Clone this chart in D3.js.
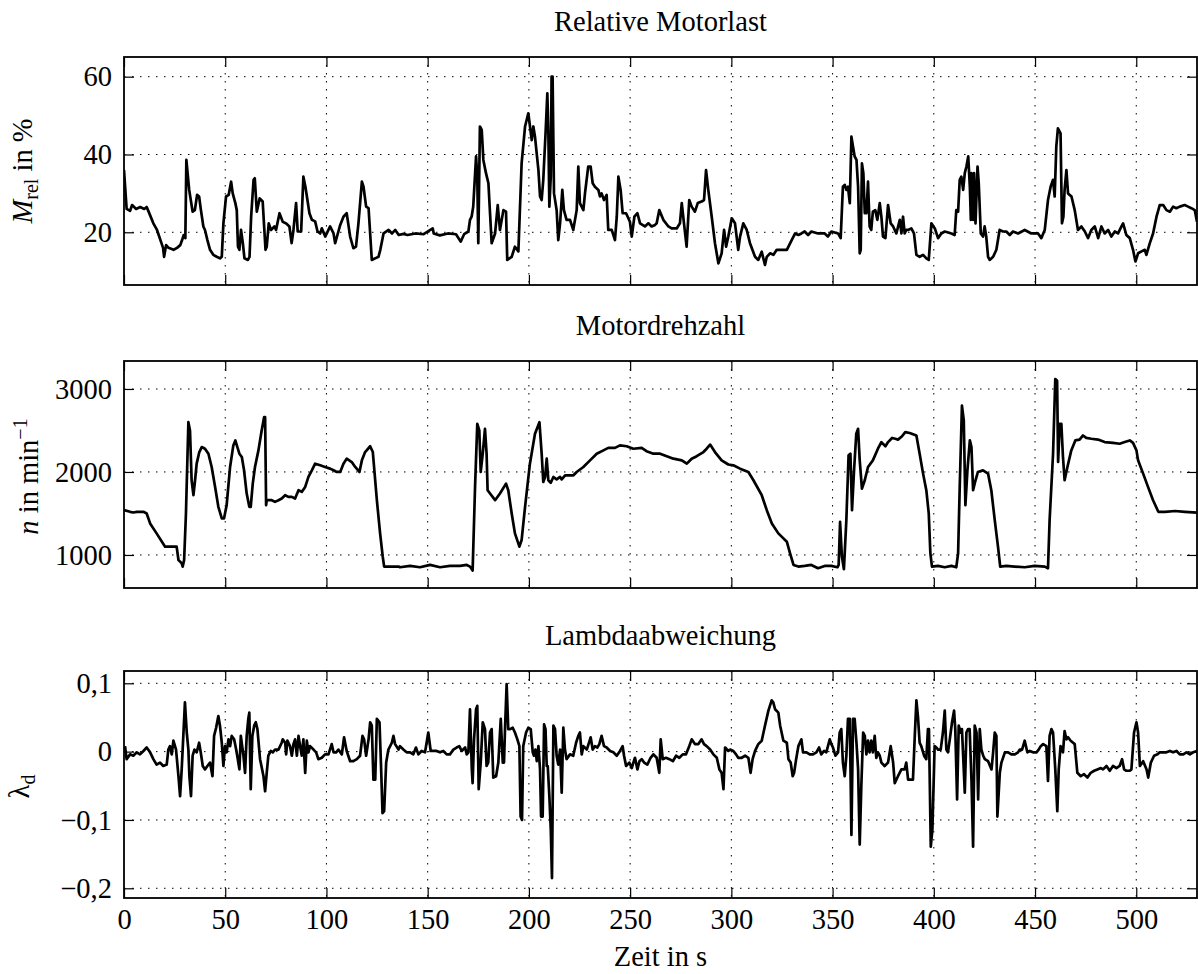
<!DOCTYPE html>
<html>
<head>
<meta charset="utf-8">
<script src="https://cdn.jsdelivr.net/npm/d3@7"></script>
<style>
  body { margin: 0; background: #fff; }
  svg { display: block; }
  text { font-family: "Liberation Serif", "Times New Roman", serif; fill: #000; }
</style>
</head>
<body>
<div id="wrapper"></div>
<script>
// Zeit in s, Wert
const loadData = [
  [0,36],[1.3,26],[3,25.5],[4,27],[6,26],[8,26.5],[10,26],[11.2,26.5],[12,25.5],[14.5,22.3],[16.3,20.6],[18,18],
  [19.3,16],[19.8,13.7],[20.8,16.7],[22,16],[24.5,15.5],[26.2,16],[27.8,16.7],[28.7,18],[29.5,19.3],[30.3,18.5],
  [30.8,38.6],[32.2,30.9],[33.9,25.3],[35,25.7],[36.1,29.6],[37.1,29.2],[38,25.7],[39.2,21.5],[40,20.6],[41.2,18],
  [42.5,15.5],[44.1,14.2],[45.8,13.7],[47.4,13.3],[48.3,13.7],[49.1,22.3],[50.4,29.2],[51.7,29.6],[52.9,33],[53.7,30],
  [55,27.5],[55.7,25.7],[56.3,16.3],[57,15.5],[57.8,20.6],[58.7,17.2],[59.5,13.3],[61.2,12.9],[62,13.7],[62.8,24],
  [64,33.5],[64.6,33.9],[65.6,25.3],[67,28.7],[68.5,27.9],[69.9,15.5],[70.5,16.3],[71.5,22.3],[72.6,20.6],[74.3,21.5],
  [75.1,20.6],[76.8,24.9],[78.4,22.7],[80,22.3],[81.7,21.5],[82.8,17.2],[83.7,20.6],[85,27.5],[85.8,20.2],[87.5,20.2],
  [88.6,34.3],[89.6,31.7],[91.6,24.9],[92.8,23.2],[94.4,22.8],[95.6,20.2],[96.9,19.7],[97.7,21],[99.4,18.9],[101.8,21.5],
  [103.5,19.7],[104.3,17.2],[105.9,20.2],[106.8,21.9],[108.4,24],[110,24.9],[111.7,18.9],[113.3,15.9],[114.6,16.3],
  [115.8,22.3],[117.5,33],[118.3,31.7],[119.6,26.6],[120.8,26.2],[122.4,12.9],[124.1,13.3],[125.7,13.7],[126.6,15.5],
  [128.2,19.7],[130.7,20.6],[132.4,19.7],[134,20.6],[135.7,19.3],[138,19.6],[140,19.3],[144,19.7],[148,19.5],[152.5,21],
  [153,19.7],[156,19.2],[160,19.7],[164,19.5],[166.3,17.6],[168,19.5],[170.1,20.2],[170.9,23.2],[171.7,24],[172.5,26.6],
  [173.9,39.5],[174.5,34.3],[175,17.2],[175.8,47.2],[176.7,46.3],[177.5,38.6],[178.8,35.2],[180,32.6],[180.8,24.9],
  [181.6,17.2],[183.3,19.7],[184.6,27],[185.7,20.6],[187.4,25.7],[188.7,25.3],[189.3,12.9],[191.5,13.7],[193.1,16.3],
  [194.8,15.1],[196.4,37.7],[198.1,47.2],[199.7,50.6],[201.4,43.7],[202.2,47.2],[203,44.6],[204.7,36],[205.5,29.2],
  [206.3,28.3],[207.1,33.5],[208.3,46.3],[209.1,55.7],[209.6,46.3],[210.1,26.6],[210.8,34.3],[211.2,60],[211.7,60],
  [212.4,30],[213.7,25.7],[214.5,18],[215.4,22.3],[216.5,30.9],[217.3,25.7],[218.6,23.2],[220.3,23.2],[221.9,20.6],
  [223.6,25.7],[224.4,36.9],[225.2,27.5],[226.9,25.7],[227.7,30],[229.3,36.9],[230.5,36.9],[231.5,32.6],[232.6,31.7],
  [234.3,30.9],[235.1,29.2],[235.9,30],[237.1,28.3],[238.4,29.6],[239.2,20.6],[240.9,20.6],[242.5,18],[243.4,24],
  [244.2,34.3],[245.3,30.9],[246.3,24.9],[248,24.9],[249.9,22.7],[250.8,18.9],[252.1,24],[253.6,24.9],[254.9,22.3],
  [257.3,21.5],[259,22.3],[260.6,21.5],[262.3,21.9],[263.1,22.3],[264.4,25.7],[266.4,23.2],[268.9,21.5],[270.5,21],
  [273,21],[274.6,22.3],[275.5,27.5],[276.6,22.3],[277.9,16.3],[279.2,28.3],[280.4,26.6],[282,25.3],[283.4,27.5],
  [285.3,27.9],[286.5,28.3],[287.5,36],[288.6,30.9],[290.3,24],[291.9,17.2],[293.6,12],[295.2,14.6],[296.4,20.6],
  [297.4,16.3],[298.5,18.9],[300.2,23.6],[301.8,22.3],[303.4,15.5],[304.3,18.9],[305.9,22.3],[307.6,20.6],[309.2,17.2],
  [311.7,13.7],[313.3,12.9],[315,15],[316.6,11.6],[317.5,13.7],[319.1,14.6],[320.8,14.2],[322.4,15.5],[324.9,15.5],
  [327.4,15.5],[329.8,18],[331.5,19.7],[333.1,19.3],[334.6,19.7],[336.2,20.2],[337.9,19.3],[339.5,20.2],[342.8,19.7],
  [346.1,19.7],[347.7,18.9],[349.4,20.2],[352.7,19.7],[354,18.5],[355.1,31.7],[356,32.2],[356.8,30.9],[357.6,31.7],
  [358.5,27.5],[359.3,44.6],[360.1,42],[360.9,39.5],[361.8,38.6],[362.6,31.7],[363.4,14.6],[363.9,15.5],[364.5,37.7],
  [365.2,35.2],[365.9,24.9],[366.7,24.9],[367.5,33],[368.3,21.5],[369.1,20.6],[369.9,25.3],[371.1,25.7],[372.1,23.2],
  [373.3,27.5],[374.1,24],[374.9,18.9],[376.1,18.5],[377.4,27],[378.7,22.3],[379.9,21.5],[381.5,19.7],[383.2,23.2],
  [384,19.7],[384.8,24],[385.6,19.7],[386.4,20.6],[387.3,20.6],[388.9,21],[390.2,19.7],[391.4,14.2],[393,13.7],
  [394.7,14.2],[396.3,13.3],[397.5,12.9],[398.8,22.3],[400.5,21],[402.1,18.5],[403.7,19.7],[405.4,20.2],[408.7,19.7],
  [410.3,19.3],[411.1,25.7],[412,25.3],[412.8,33.5],[413.6,34.3],[414.5,30.9],[415.3,35.2],[416.1,36.9],[417,39.5],
  [417.8,31.7],[418.3,23.2],[418.6,35.2],[419.5,23.2],[419.9,35.2],[420.6,22.3],[421.6,36.9],[422.2,32.6],[423.2,19.7],
  [424.3,18.9],[425.1,21.5],[425.9,18.9],[426.8,13.7],[427.6,12.9],[429.3,13.7],[430.9,15.5],[432.5,20.6],[434.2,20.2],
  [435.8,20.2],[437.5,19.3],[439.1,20.2],[441.6,19.7],[444.9,20.6],[448.2,19.7],[451.5,19.7],[453.1,18.5],[454.8,20.6],
  [456.4,28.3],[457.7,31.7],[458.9,33.5],[459.7,29.2],[460.5,42],[461.3,46.7],[462.6,45.4],[463.3,22.3],[464,24],
  [464.6,30.9],[465.5,36],[466.3,30],[468,29.2],[469.6,25.7],[471.2,20.6],[472.9,21.5],[474.6,20.2],[476.2,18.5],
  [477.8,20.6],[479.5,21.5],[481.2,18.5],[482.8,21.5],[484.4,19.7],[486.1,20.6],[487.7,18.9],[489.4,20.2],[491,19.7],
  [492.7,21.5],[493.5,22.3],[495.1,19.3],[496.8,18.5],[498.4,15.5],[499.6,12.5],[500.9,14.6],[502.6,15.1],[504.2,15.5],
  [505,14.2],[506.7,17.2],[508.3,19.7],[510,24],[511.6,27],[513.3,27],[514.9,25.7],[516.6,25.3],[518.2,26.6],
  [519.8,26.2],[521.5,26.6],[523.9,27],[525.6,26.6],[527.2,26.2],[528.9,25.7],[530,22.7]
]

const speedData = [
  [0,1540],[3,1520],[4.6,1512],[6.3,1520],[9.6,1520],[11.2,1500],[12.9,1380],[16.1,1260],[20.3,1100],[22.7,1100],
  [26,1100],[26.9,940],[27.7,920],[28.5,900],[29,860],[29.7,940],[30.6,1500],[31.8,2600],[32.6,2500],[33.4,1900],
  [34.3,1720],[35.1,1900],[35.9,2100],[37.2,2240],[38.4,2300],[40,2280],[41.7,2220],[43.3,2060],[45,1820],[46.6,1580],
  [48.3,1440],[49.4,1440],[50.7,1600],[52.4,2060],[54,2320],[55,2380],[56,2300],[57,2220],[58.2,2180],[59.3,2020],
  [60.6,1740],[61.9,1580],[62.6,1580],[63.6,1860],[64.7,2060],[66.4,2260],[68,2500],[69.2,2660],[69.7,2660],[70.2,1600],
  [70.5,1660],[71.3,1660],[73,1660],[74.6,1640],[76.3,1660],[77.9,1680],[79.6,1720],[81.2,1700],[82.9,1700],[84.5,1680],
  [86.2,1780],[87.8,1760],[89.5,1820],[91.1,1940],[92.8,2020],[94.4,2100],[96.9,2080],[99.3,2060],[101.8,2040],
  [103.5,2020],[105.1,2000],[106.8,2000],[108.4,2100],[110,2160],[112.5,2120],[114.2,2060],[116.3,2000],[117.5,2140],
  [119.1,2240],[121.6,2310],[122.9,2240],[124.9,1660],[126.5,1260],[127.8,980],[128.5,860],[129.8,860],[132.3,860],
  [135.6,860],[136.3,852],[141.3,868],[146.2,852],[151.2,880],[156.1,852],[161,868],[166,868],[169.3,880],[170.9,860],
  [172.2,812],[173.4,1820],[174.5,2580],[175.5,2500],[176.2,2000],[177.2,2220],[178.3,2520],[179.1,2220],[179.6,1780],
  [180.8,1740],[183.3,1660],[185.7,1740],[188.7,1860],[189.8,1780],[191.5,1500],[193.1,1260],[195.3,1100],[196.4,1180],
  [198.1,1580],[200.5,2100],[203,2460],[205.2,2600],[206.3,2220],[207.1,1880],[208,1940],[208.8,2160],[209.6,1900],
  [210.8,1870],[212.1,1940],[213.7,1910],[215.4,1940],[216.2,1910],[217.9,1960],[222,1960],[223.6,2000],[226.9,2060],
  [230.2,2140],[233.5,2220],[236.8,2260],[239.2,2290],[242.5,2290],[245,2320],[248.3,2310],[251.6,2280],[255.7,2290],
  [258.1,2250],[261.5,2220],[264.8,2220],[268.1,2190],[271.4,2160],[275.5,2140],[278,2100],[280.4,2160],[282.9,2190],
  [286.2,2240],[287.8,2280],[289.5,2330],[291.9,2240],[295.2,2140],[298.5,2090],[301,2080],[304.3,2040],[308.4,2000],
  [310.9,1900],[315,1720],[317.5,1540],[320,1380],[323.2,1260],[327.4,1160],[329,1020],[330.7,880],[333.1,860],
  [336.2,868],[339.5,880],[342.8,840],[346.1,868],[349.4,868],[352.4,852],[353,880],[353.7,1400],[354.6,980],[355.6,828],
  [356.8,1420],[357.9,2200],[358.8,2220],[359.6,1540],[360.6,2020],[361.7,2460],[362.6,2520],[363.4,2140],[364.5,1800],
  [365.9,1900],[367.5,2060],[369.9,2140],[372.4,2280],[374.1,2360],[376.1,2310],[377.4,2360],[379.4,2410],[381,2400],
  [382.3,2390],[384.3,2430],[385.9,2480],[388.1,2470],[391.4,2440],[393,2220],[394.7,1980],[396.3,1780],[397.5,1500],
  [398.3,1020],[399.1,860],[402.1,868],[405.4,852],[408.7,868],[411.1,852],[412,1020],[412.8,1820],[413.9,2800],
  [414.8,2620],[415.6,1600],[416.6,2020],[417.8,2380],[418.6,2300],[419.4,1780],[420.6,1900],[421.8,2000],[424.3,2020],
  [426.8,1980],[428.4,1780],[430.1,1420],[431.7,1100],[432.8,860],[435.8,868],[439.9,860],[444.9,852],[449.8,868],
  [454.8,860],[456.4,840],[457.2,1420],[458.9,2220],[460,3120],[460.9,3100],[461.4,2120],[462.2,2580],[463,2580],
  [463.8,2180],[464.6,1900],[466,2060],[467.9,2260],[469.9,2380],[472,2390],[473.7,2440],[475.3,2410],[477.8,2400],
  [481.1,2390],[484.4,2360],[488.5,2350],[491.8,2340],[494.3,2360],[496.8,2380],[498.4,2350],[500.1,2260],[500.9,2140],
  [503.4,1980],[505.8,1820],[508.3,1660],[510.9,1520],[514.2,1520],[519.1,1530],[524,1520],[530,1510]
]

const lambdaData = [
  [0.5,0.008],[1.3,-0.011],[3,-0.004],[4.6,-0.006],[6.3,-0.001],[7.9,-0.004],[9.6,0.001],[11.2,0.006],[12.9,-0.001],
  [14.5,-0.011],[16.1,-0.019],[17.8,-0.016],[19.4,-0.021],[21.1,-0.019],[21.9,0.003],[22.7,0.008],[23.6,-0.004],
  [24.4,0.016],[25.7,0.003],[26.9,-0.036],[27.7,-0.065],[28.5,-0.026],[29.3,0.023],[30.1,0.072],[31,0.028],[31.8,0.003],
  [32.3,-0.036],[33.1,-0.065],[33.9,-0.006],[34.8,0.003],[35.9,-0.001],[37.1,0.013],[37.9,-0.001],[38.9,-0.021],
  [40,-0.026],[41.2,-0.021],[42.5,-0.016],[43.7,-0.036],[44.5,0.023],[45.5,0.035],[46.6,0.052],[47.4,0.038],[48.3,0.013],
  [49.1,-0.021],[49.9,0.008],[50.7,-0.001],[51.6,0.018],[52.4,0.008],[53.2,0.023],[54.4,0.018],[55.4,0.003],[56.2,-0.011],
  [57,-0.026],[57.7,0.023],[59,-0.006],[59.8,-0.031],[60.6,0.023],[61.4,0.048],[61.9,0.057],[62.6,-0.055],[63.4,0.023],
  [64.3,0.038],[65.1,0.043],[65.9,0.033],[67.2,-0.011],[68.9,-0.036],[69.7,-0.058],[70.5,-0.031],[71.3,-0.006],
  [72.5,0.001],[73.5,-0.001],[74.6,0.003],[76.3,0.003],[77.9,0.013],[78.4,0.018],[79.6,0.013],[80.1,-0.004],[80.7,0.016],
  [82,0.008],[82.9,-0.006],[83.7,0.011],[84.5,0.018],[85.4,-0.006],[86.2,0.023],[87,0.008],[87.8,-0.006],[88.6,0.018],
  [89.5,-0.031],[90.3,0.016],[91.1,-0.001],[91.9,0.008],[93.6,0.003],[94.9,-0.001],[96,-0.011],[97.7,-0.009],[99.3,-0.004],
  [101,-0.004],[102.6,0.011],[103.5,-0.001],[104.8,-0.001],[105.9,0.003],[107.6,-0.004],[108.7,0.021],[110,0.001],
  [111.7,-0.014],[113.3,-0.014],[115,-0.011],[116.6,-0.006],[117.8,0.023],[118.6,0.018],[119.6,-0.006],[120.8,0.018],
  [121.6,0.043],[122.4,0.038],[123.2,-0.041],[124.1,-0.041],[124.9,0.048],[126.2,0.043],[126.9,-0.016],[127.7,-0.09],
  [128.5,-0.087],[129.5,-0.016],[130.6,0.003],[132.3,0.013],[133.1,0.023],[133.9,0.011],[135.6,0.003],[136.3,0.008],
  [138,0.003],[139.6,-0.001],[141.3,-0.001],[142.9,-0.004],[144.2,0.006],[145.4,-0.004],[147,0.001],[148.7,-0.001],
  [150.3,0.028],[151.5,0.001],[152.8,0.001],[154.4,0.001],[156.1,-0.001],[157.7,0.001],[159.4,-0.004],[161,-0.004],
  [162.7,0.003],[164.3,0.006],[165.6,0.008],[166.8,0.001],[168.5,0.006],[169.3,-0.004],[170.1,-0.001],[170.9,0.062],
  [171.8,-0.026],[172.2,-0.046],[172.9,0.018],[173.9,0.062],[174.5,0.067],[175.2,-0.055],[176.2,-0.016],[177.2,0.043],
  [178.3,0.033],[179.1,-0.021],[179.9,-0.016],[180.8,0.028],[181.6,0.033],[182.4,-0.038],[183.8,-0.036],[184.9,-0.016],
  [186.1,0.048],[187.1,-0.016],[187.7,-0.016],[188.2,0.033],[189,0.099],[189.8,0.033],[190.7,0.033],[192,0.035],
  [193.1,0.028],[194.3,0.018],[195.3,0.008],[195.9,-0.095],[196.6,-0.1],[197.2,0.008],[198.6,0.028],[199.7,0.035],
  [200.9,0.033],[201.9,-0.001],[202.5,-0.006],[203.2,0.003],[203.9,-0.014],[204.7,0.008],[205.5,-0.026],[206,-0.095],
  [206.8,-0.095],[207.5,0.04],[208.2,0.033],[208.8,-0.021],[209.3,-0.021],[210.1,-0.065],[210.8,-0.114],[211.4,-0.185],
  [212.1,0.038],[212.9,0.033],[213.7,-0.006],[214.5,-0.019],[215.4,0.003],[216.2,-0.06],[217,0.035],[217.8,0.003],
  [218.6,-0.011],[220.3,-0.004],[221.9,-0.006],[223.3,0.013],[224.4,0.023],[225.2,0.028],[226.1,-0.004],[226.9,0.008],
  [228.6,0.003],[230.5,0.021],[231.5,0.003],[232.6,0.008],[233.8,0.006],[234.8,0.011],[235.9,0.023],[237.1,0.008],
  [238.4,0.006],[240.1,0.001],[241.7,-0.001],[243.4,-0.006],[245,0.001],[246.3,0.008],[247,-0.006],[248,-0.021],
  [249.6,-0.016],[250.8,-0.024],[251.6,-0.016],[252.4,-0.009],[253.6,-0.026],[254.6,-0.014],[255.7,-0.011],[256.9,-0.016],
  [258.5,-0.019],[260.1,-0.009],[261.5,-0.004],[263.1,-0.009],[264.4,-0.031],[265.1,0.018],[266.1,-0.011],[267.7,-0.009],
  [269.4,-0.011],[271.1,-0.014],[272.7,-0.006],[274.3,-0.009],[276,-0.004],[277.6,-0.004],[279.2,0.008],[280.4,0.018],
  [282,0.011],[283.7,0.011],[285.3,0.018],[286.5,0.011],[287.8,0.008],[289.5,0.003],[291.1,-0.004],[292.8,-0.009],
  [294.1,-0.026],[295.2,-0.031],[296.1,-0.055],[296.9,0.006],[298.5,0.001],[299.4,0.003],[301,0.001],[302.3,-0.004],
  [303.4,-0.009],[305.1,-0.009],[306.8,-0.006],[308.4,-0.009],[309.5,-0.031],[310.5,-0.011],[311.7,0.001],[313.3,0.011],
  [315,0.016],[316.6,0.038],[318.3,0.06],[319.9,0.075],[320.7,0.072],[321.6,0.062],[323.2,0.057],[324.1,0.038],
  [325.7,0.016],[327.4,0.013],[328.2,-0.011],[329.3,-0.016],[330.3,-0.036],[331,-0.031],[332,-0.011],[333.1,0.008],
  [334.6,0.018],[335.4,-0.001],[337.1,-0.001],[338.7,-0.004],[340.3,-0.004],[342,-0.001],[343.3,0.006],[344.4,-0.004],
  [345.8,0.001],[346.9,-0.001],[348.6,0.018],[349.4,0.011],[350.2,0.006],[351.4,-0.006],[352.7,-0.001],[353.5,0.028],
  [354.3,0.033],[355.1,-0.016],[356,-0.036],[356.8,-0.006],[357.6,0.048],[358.5,0.048],[359.3,-0.122],[360.1,0.048],
  [360.9,0.048],[361.8,0.013],[362.6,-0.026],[363.4,-0.136],[364.2,-0.05],[365.1,0.028],[365.9,0.023],[366.7,-0.004],
  [367.5,0.016],[368.3,-0.001],[369.1,0.016],[369.9,-0.001],[370.8,0.023],[371.6,-0.009],[372.4,-0.001],[373.3,-0.006],
  [374.1,-0.016],[375.7,-0.021],[377.4,-0.016],[378.7,0.008],[379.9,-0.016],[380.7,-0.046],[382.3,-0.036],[384,-0.026],
  [385.6,-0.026],[386.4,-0.016],[387.3,-0.041],[389.7,-0.041],[390.6,0.023],[391.4,0.075],[392.2,0.05],[393,0.013],
  [393.8,0.008],[395.2,-0.006],[396.3,-0.011],[397.1,0.033],[397.6,0.033],[398.5,-0.139],[399.3,-0.114],[400.4,0.008],
  [401.3,0.006],[402.1,0.003],[403.4,0.003],[404.5,0.028],[405.4,0.06],[406.2,0.003],[407,-0.001],[407.9,0.018],
  [409,0.043],[410,0.06],[410.6,0.033],[411.5,-0.07],[412.3,0.038],[413.3,0.028],[413.9,0.033],[415.3,-0.06],
  [416.1,0.028],[416.9,0.033],[417.7,0.033],[418.6,-0.041],[419.4,-0.139],[420.2,0.038],[421.1,0.028],[421.9,-0.07],
  [422.7,0.033],[423.5,0.003],[424.4,-0.006],[425.2,-0.011],[426.8,-0.014],[428.5,-0.026],[429.3,-0.001],[430.1,0.028],
  [430.9,0.023],[431.4,-0.095],[432.6,-0.031],[433.4,-0.016],[435.1,-0.001],[436.7,-0.001],[438.3,-0.004],[440,-0.004],
  [441.6,-0.001],[442.4,0.003],[443.6,0.003],[444.9,0.016],[446.2,-0.001],[447.4,0.001],[449,-0.001],[450.7,-0.001],
  [451.8,0.003],[452.8,0.008],[454,0.011],[455.6,0.008],[456.4,-0.043],[457.2,0.023],[458.1,0.033],[458.9,0.028],
  [460,-0.026],[461,-0.087],[461.7,-0.026],[462.6,0.008],[463.8,-0.001],[464.6,0.03],[465.5,0.018],[466.3,0.021],
  [467.6,0.016],[468.8,0.013],[469.6,0.011],[470.9,-0.031],[472.6,-0.036],[474.2,-0.033],[475.9,-0.038],[477.5,-0.031],
  [479.2,-0.028],[480.8,-0.026],[482.5,-0.024],[483.6,-0.026],[485.3,-0.021],[486.9,-0.028],[488.5,-0.021],[490.2,-0.024],
  [491.8,-0.021],[493,-0.011],[494,-0.026],[495.1,-0.028],[496.8,-0.028],[497.6,-0.026],[498.9,0.028],[500.1,0.043],
  [500.9,0.028],[501.8,-0.021],[503.4,-0.014],[505.1,-0.026],[505.9,-0.038],[507.2,-0.016],[508.8,-0.006],[510.5,-0.004],
  [511.6,-0.001],[513.3,-0.001],[514.9,-0.001],[516.6,0.001],[518.2,-0.001],[519.9,0.001],[521.5,-0.004],[523.2,-0.004],
  [524.8,-0.001],[526.5,-0.004],[528.1,-0.001],[530,0.001]
]

const timeTicks = [0, 50, 100, 150, 200, 250, 300, 350, 400, 450, 500]
const loadTicks = [20, 40, 60]
const speedTicks = [1000, 2000, 3000]
const lambdaTicks = [-0.2, -0.1, 0, 0.1]
const titles = ['Relative Motorlast', 'Motordrehzahl', 'Lambdaabweichung']

const width = 1198
const height = 974
const left = 124
const right = 1197
const fontSize = 28.5
const smallSize = 20

const commaFormat = (d) => d === 0 ? '0' : String(d).replace('.', ',').replace('-', '\u2212')

const panels = [
  { title: titles[0], data: loadData, ticks: loadTicks, domain: [6.45, 65.06], top: 57, bottom: 285, format: d3.format('d'), label: 'load' },
  { title: titles[1], data: speedData, ticks: speedTicks, domain: [602, 3337], top: 361, bottom: 588, format: d3.format('d'), label: 'speed' },
  { title: titles[2], data: lambdaData, ticks: lambdaTicks, domain: [-0.2142, 0.118], top: 671, bottom: 898, format: commaFormat, label: 'lambda' }
]

const svg = d3.select('#wrapper').append('svg')
  .attr('width', width)
  .attr('height', height)

const xScale = d3.scaleLinear()
  .domain([0, 530])
  .range([left, right])

panels.forEach((p, i) => {
  const yScale = d3.scaleLinear()
    .domain(p.domain)
    .range([p.bottom, p.top])

  const g = svg.append('g')

  // dotted grid
  g.selectAll('.vgrid')
    .data(timeTicks.filter(t => t > 0))
    .join('line')
    .attr('x1', d => xScale(d)).attr('x2', d => xScale(d))
    .attr('y1', p.top).attr('y2', p.bottom)
    .attr('stroke', '#000').attr('stroke-width', 1)
    .attr('stroke-dasharray', '1.5,6.5')

  g.selectAll('.hgrid')
    .data(p.ticks)
    .join('line')
    .attr('x1', left).attr('x2', right)
    .attr('y1', d => yScale(d)).attr('y2', d => yScale(d))
    .attr('stroke', '#000').attr('stroke-width', 1)
    .attr('stroke-dasharray', '1.5,6.5')

  // inward ticks on all four sides
  const tickStyle = (sel) => {
    sel.select('.domain').remove()
    sel.selectAll('.tick line').attr('stroke', '#000').attr('stroke-width', 1.2)
  }
  g.append('g')
    .attr('transform', `translate(${left},0)`)
    .call(d3.axisLeft(yScale).tickValues(p.ticks).tickSize(-10).tickPadding(12).tickFormat(p.format))
    .call(tickStyle)
    .call(s => s.selectAll('.tick text')
      .attr('font-size', fontSize)
      .attr('font-family', '"Liberation Serif", serif')
      .attr('fill', '#000'))
  g.append('g')
    .attr('transform', `translate(${right},0)`)
    .call(d3.axisRight(yScale).tickValues(p.ticks).tickSize(-10).tickFormat(''))
    .call(tickStyle)
  g.append('g')
    .attr('transform', `translate(0,${p.top})`)
    .call(d3.axisTop(xScale).tickValues(timeTicks).tickSize(-10).tickFormat(''))
    .call(tickStyle)
  const xAxis = g.append('g')
    .attr('transform', `translate(0,${p.bottom})`)
    .call(d3.axisBottom(xScale).tickValues(timeTicks).tickSize(-10).tickPadding(11)
      .tickFormat(i === panels.length - 1 ? d3.format('d') : ''))
    .call(tickStyle)
  xAxis.selectAll('.tick text')
    .attr('font-size', fontSize)
    .attr('font-family', '"Liberation Serif", serif')
    .attr('fill', '#000')

  // data line
  const clipId = 'clip' + i
  svg.append('clipPath').attr('id', clipId)
    .append('rect')
    .attr('x', left).attr('y', p.top)
    .attr('width', right - left).attr('height', p.bottom - p.top)

  const line = d3.line()
    .x(d => xScale(d[0]))
    .y(d => yScale(d[1]))

  g.append('path')
    .attr('d', line(p.data))
    .attr('clip-path', `url(#${clipId})`)
    .attr('fill', 'none')
    .attr('stroke', '#000')
    .attr('stroke-width', 2.7)
    .attr('stroke-linejoin', 'round')

  // frame
  g.append('rect')
    .attr('x', left).attr('y', p.top)
    .attr('width', right - left).attr('height', p.bottom - p.top)
    .attr('fill', 'none')
    .attr('stroke', '#000')
    .attr('stroke-width', 1.8)

  // title
  svg.append('text')
    .attr('x', (left + right) / 2)
    .attr('y', p.top - 26)
    .attr('text-anchor', 'middle')
    .attr('font-size', fontSize)
    .text(p.title)

  // y label
  const cy = (p.top + p.bottom) / 2
  if (p.label === 'load') {
    const t = svg.append('text')
      .attr('transform', `translate(32,${cy}) rotate(-90)`)
      .attr('text-anchor', 'middle')
      .attr('font-size', fontSize)
    t.append('tspan').attr('font-style', 'italic').text('M')
    t.append('tspan').attr('font-size', smallSize).attr('dy', 6).text('rel')
    t.append('tspan').attr('dy', -6).text(' in %')
  } else if (p.label === 'speed') {
    const t = svg.append('text')
      .attr('transform', `translate(38,${cy + 2}) rotate(-90)`)
      .attr('text-anchor', 'middle')
      .attr('font-size', fontSize)
    t.append('tspan').attr('font-style', 'italic').text('n')
    t.append('tspan').text(' in min')
    t.append('tspan').attr('font-size', smallSize).attr('dy', -11).text('\u22121')
  } else {
    const t = svg.append('text')
      .attr('transform', `translate(29,${cy + 2}) rotate(-90)`)
      .attr('text-anchor', 'middle')
      .attr('font-size', fontSize)
    t.append('tspan').text('\u03bb')
    t.append('tspan').attr('font-size', smallSize).attr('dy', 6).text('d')
  }
})

svg.append('text')
  .attr('x', (left + right) / 2)
  .attr('y', 966)
  .attr('text-anchor', 'middle')
  .attr('font-size', fontSize)
  .text('Zeit in s')
</script>
</body>
</html>
